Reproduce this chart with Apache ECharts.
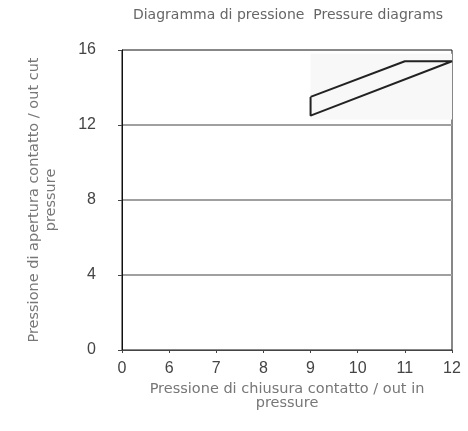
<!DOCTYPE html>
<html>
<head>
<meta charset="utf-8">
<script src="https://cdn.jsdelivr.net/npm/echarts@6/dist/echarts.min.js"></script>
<style>
  html, body { margin: 0; padding: 0; background: #fff; }
  #chart { width: 468px; height: 431px; }
</style>
</head>
<body>
<div id="chart"></div>
<script>
// x categories (closing pressure) as printed on the axis
const categories = ['0', '6', '7', '8', '9', '10', '11', '12'];
// y ticks (opening pressure)
const yTicks = [0, 4, 8, 12, 16];
// hysteresis outline, drawn in order
const shapeX = ['9', '11', '12', '9', '9'];
const shapeY = [13.5, 15.4, 15.4, 12.5, 13.5];

const chart = echarts.init(document.getElementById('chart'));

const labelFont = 'Liberation Sans, Arial, sans-serif';
const textFont = 'DejaVu Sans, sans-serif';

chart.setOption({
  animation: false,
  title: {
    text: 'Diagramma di pressione  Pressure diagrams',
    left: 283,
    textAlign: 'center',
    top: 3,
    textStyle: { fontSize: 14, fontWeight: 'normal', color: '#666', fontFamily: textFont }
  },
  grid: {
    left: 122, right: 16, top: 50, bottom: 81,
    show: true, borderColor: '#111', borderWidth: 1, backgroundColor: 'transparent'
  },
  xAxis: {
    type: 'category',
    data: categories,
    boundaryGap: false,
    name: 'Pressione di chiusura contatto / out in\npressure',
    nameLocation: 'middle',
    nameGap: 18,
    nameTextStyle: { fontSize: 14.5, color: '#777', fontFamily: textFont, lineHeight: 14 },
    axisLine: { lineStyle: { color: '#444', width: 1 } },
    axisTick: { show: true, length: 3, alignWithLabel: true, lineStyle: { color: '#444' } },
    axisLabel: { fontSize: 16, color: '#444', margin: 11, fontFamily: labelFont },
    splitLine: { show: false }
  },
  yAxis: {
    type: 'value',
    min: yTicks[0],
    max: yTicks[yTicks.length - 1],
    interval: 4,
    name: 'Pressione di apertura contatto / out cut\npressure',
    nameLocation: 'middle',
    nameGap: 62,
    nameTextStyle: { fontSize: 14.5, color: '#777', fontFamily: textFont, lineHeight: 17 },
    axisLine: { show: true, lineStyle: { color: '#111', width: 1 } },
    axisTick: { show: true, length: 4, lineStyle: { color: '#444' } },
    axisLabel: { fontSize: 16, color: '#444', margin: 26, fontFamily: labelFont },
    splitLine: { show: true, showMinLine: false, showMaxLine: false, lineStyle: { color: '#a0a0a0', width: 2 } }
  },
  series: [{
    type: 'line',
    data: shapeX.map((x, i) => [x, shapeY[i]]),
    symbol: 'none',
    lineStyle: { color: '#222', width: 2 },
    markArea: {
      silent: true,
      itemStyle: { color: '#f8f8f8' },
      data: [[{ coord: ['9', 15.8] }, { coord: ['12', 12.3] }]]
    }
  }]
});
</script>
</body>
</html>
